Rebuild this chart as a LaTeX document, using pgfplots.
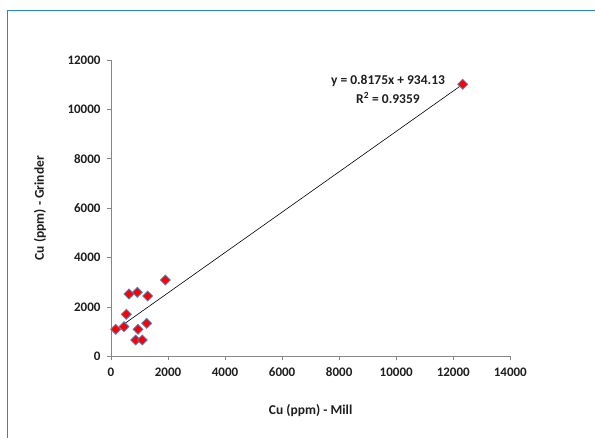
\documentclass[border=0pt]{standalone}
\usepackage{fontspec}
\setmainfont{Carlito}
\usepackage{pgfplots}
\pgfplotsset{compat=1.18}
\definecolor{frameblue}{RGB}{40,136,204}
\definecolor{axgray}{RGB}{134,134,134}
\definecolor{mkblue}{RGB}{79,129,189}
\definecolor{txt}{RGB}{30,30,30}
\begin{document}
\begin{tikzpicture}
\path[use as bounding box] (0pt,0pt) rectangle (595pt,437pt);
\draw[frameblue, line width=1.5pt] (7.5pt,-5pt) -- (7.5pt,426.5pt) -- (600pt,426.5pt);
\begin{axis}[
  at={(111pt,80.7pt)}, anchor=south west,
  scale only axis, width=399.3pt, height=296.3pt,
  xmin=0, xmax=14000, ymin=0, ymax=12000,
  xtick={0,2000,...,14000}, ytick={0,2000,...,12000},
  axis x line*=bottom, axis y line*=left,
  axis line style={axgray, line width=0.8pt},
  tick style={axgray, line width=0.8pt},
  tick align=outside, major tick length=4pt,
  scaled ticks=false,
  /pgf/number format/1000 sep={},
  /pgf/number format/assume math mode=true,
  tick label style={font=\fontsize{13}{15}\selectfont\bfseries, text=txt},
  xticklabel style={yshift=-4pt},
  yticklabel style={xshift=-3pt},
  xlabel={Cu (ppm) - Mill},
  ylabel={Cu (ppm) - Grinder},
  xlabel style={at={(axis description cs:0.5,-0.182)}, anchor=center, font=\fontsize{13.5}{16}\selectfont\bfseries, text=txt},
  ylabel style={at={(axis description cs:-0.178,0.5)}, anchor=center, rotate=0, font=\fontsize{13.5}{16}\selectfont\bfseries, text=txt},
  clip=false,
]
\addplot[black, line width=0.6pt, no marks] coordinates {(165,1069) (12332,11016)};
\addplot[only marks, mark=square*, mark size=3.5pt,
  mark options={rotate=45, fill=red, draw=mkblue, line width=0.8pt}]
  coordinates {
  (165,1094) (456,1199) (536,1701) (631,2523) (922,2592) (1287,2442)
  (1904,3090) (947,1094) (1252,1337) (866,660) (1097,660) (12332,11017)
  };
\end{axis}
\node[font=\fontsize{13.5}{16}\selectfont\bfseries, text=txt] at (388pt,356.3pt) {y = 0.8175x + 934.13};
\node[font=\fontsize{13.5}{16}\selectfont\bfseries, text=txt] at (388pt,339pt) {R\textsuperscript{2} = 0.9359};
\end{tikzpicture}
\end{document}
